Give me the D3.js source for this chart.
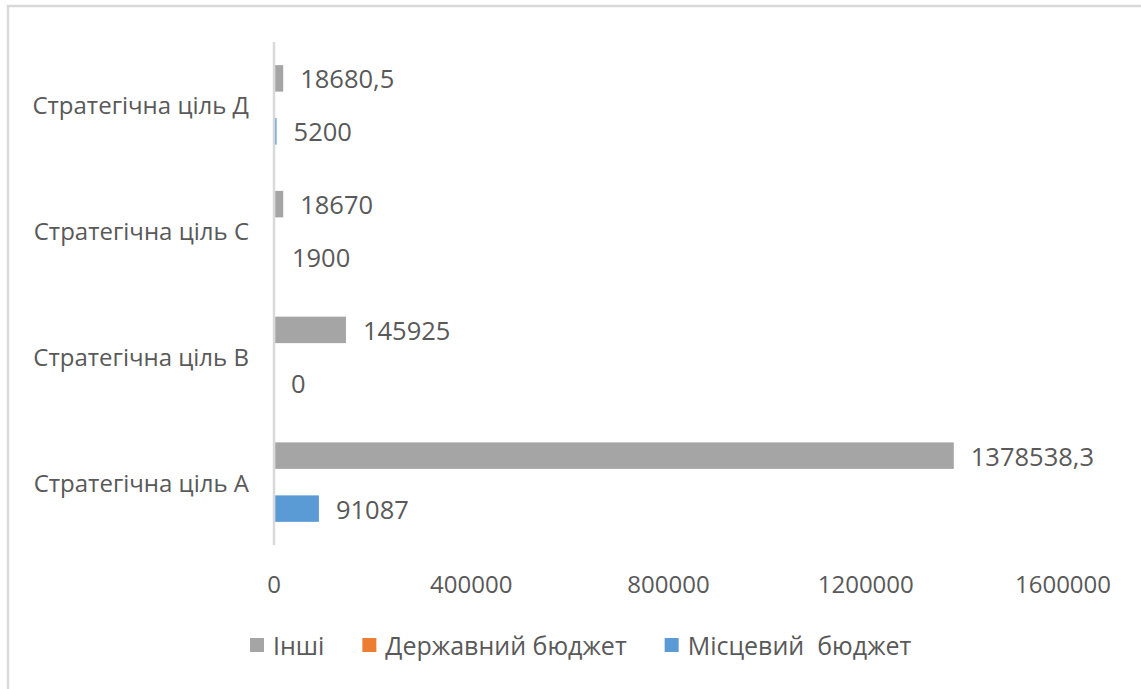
<!DOCTYPE html>
<html>
<head>
<meta charset="utf-8">
<script src="https://cdn.jsdelivr.net/npm/d3@7"></script>
<style>
  body { margin: 0; background: #fff; }
  svg text { font-family: "Open Sans", sans-serif; fill: #595959; }
</style>
</head>
<body>
<svg id="chart" width="1141" height="689"></svg>
<script>
// дані діаграми
var categories = ["Стратегічна ціль Д", "Стратегічна ціль С", "Стратегічна ціль В", "Стратегічна ціль А"];
var seriesNames = ["Інші", "Державний бюджет", "Місцевий  бюджет"];
var seriesColors = ["#A5A5A5", "#ED7D31", "#5B9BD5"];
var inshi = [18680.5, 18670, 145925, 1378538.3];
var derzhBudget = [null, null, null, null];
var mistsevyiBudget = [5200, 1900, 0, 91087];
var xTicks = [0, 400000, 800000, 1200000, 1600000];

var seriesValues = [inshi, derzhBudget, mistsevyiBudget];

var svg = d3.select("#chart");

// рамка
svg.append("rect")
  .attr("x", 8).attr("y", 6)
  .attr("width", 1200).attr("height", 800)
  .attr("fill", "none")
  .attr("stroke", "#d9d9d9")
  .attr("stroke-width", 2.5);

var plot = { left: 274, right: 1063, top: 42, bottom: 545 };

var x = d3.scaleLinear().domain([0, 1600000]).range([plot.left, plot.right]);

var y = d3.scaleBand()
  .domain(categories)
  .range([plot.top, plot.bottom])
  .paddingInner(0.368)
  .paddingOuter(0.184);

var ySub = d3.scaleBand()
  .domain(d3.range(seriesNames.length))
  .range([0, y.bandwidth()]);

// вісь Y
svg.append("line")
  .attr("x1", plot.left).attr("x2", plot.left)
  .attr("y1", plot.top).attr("y2", plot.bottom)
  .attr("stroke", "#d9d9d9")
  .attr("stroke-width", 2.5);

// підписи категорій
svg.selectAll("text.cat")
  .data(categories)
  .join("text")
  .attr("class", "cat")
  .attr("x", 249)
  .attr("y", d => y(d) + y.bandwidth() / 2)
  .attr("text-anchor", "end")
  .attr("dominant-baseline", "central")
  .style("font-size", "24px")
  .text(d => d);

// стовпці
seriesValues.forEach(function (vals, si) {
  var data = categories.map((c, i) => ({ cat: c, value: vals[i] }))
    .filter(d => d.value !== null);

  svg.selectAll("rect.s" + si)
    .data(data)
    .join("rect")
    .attr("class", "s" + si)
    .attr("x", x(0) + 1.25)
    .attr("y", d => y(d.cat) + ySub(si))
    .attr("width", d => Math.max(0, x(d.value) - x(0) - 1.25))
    .attr("height", ySub.bandwidth())
    .attr("fill", seriesColors[si]);

  svg.selectAll("text.l" + si)
    .data(data)
    .join("text")
    .attr("class", "l" + si)
    .attr("x", d => x(d.value) + 17)
    .attr("y", d => y(d.cat) + ySub(si) + ySub.bandwidth() / 2)
    .attr("dominant-baseline", "central")
    .style("font-size", "25.5px")
    .text(d => String(d.value).replace(".", ","));
});

// вісь X (підписи)
svg.selectAll("text.tick")
  .data(xTicks)
  .join("text")
  .attr("class", "tick")
  .attr("x", d => x(d))
  .attr("y", 583)
  .attr("text-anchor", "middle")
  .attr("dominant-baseline", "central")
  .style("font-size", "24px")
  .text(d => d);

// легенда
var legend = svg.append("g").attr("transform", "translate(250,645)");
var lx = 0;
seriesNames.forEach(function (name, i) {
  var g = legend.append("g").attr("transform", `translate(${lx},0)`);
  g.append("rect")
    .attr("x", 0).attr("y", -7)
    .attr("width", 14).attr("height", 14)
    .attr("fill", seriesColors[i]);
  var t = g.append("text")
    .attr("x", 23)
    .attr("y", 0)
    .attr("dominant-baseline", "central")
    .style("font-size", "25px")
    .style("white-space", "pre")
    .attr("xml:space", "preserve")
    .text(name);
  lx += 23 + t.node().getComputedTextLength() + 38;
});
</script>
</body>
</html>
